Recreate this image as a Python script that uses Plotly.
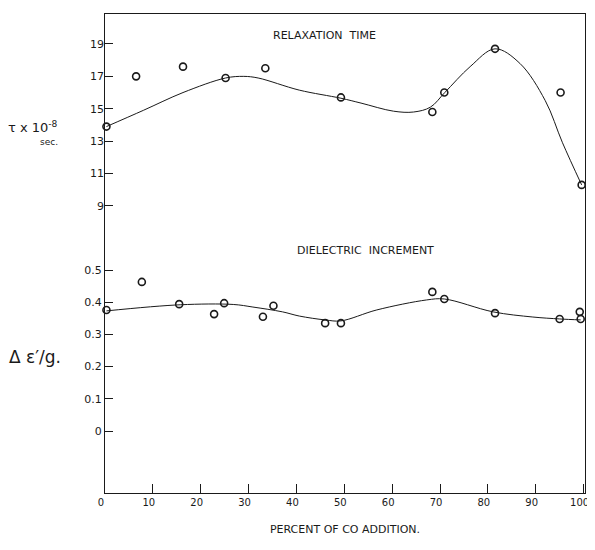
import plotly.graph_objects as go

# ---- data ----
# Relaxation time (tau x 1e-8 sec), measured points
tau_x = [0.3, 6.5, 16.3, 25.2, 33.5, 49.3, 68.4, 70.9, 81.5, 95.2, 99.6]
tau_y = [13.9, 17.0, 17.6, 16.9, 17.5, 15.7, 14.8, 16.0, 18.7, 16.0, 10.3]
# Relaxation time, hand-drawn smooth curve (knots)
tau_curve_x = [0.3, 8, 16.3, 25.2, 29, 32, 40.6, 49.3, 53.5, 60.3, 64.5, 68, 71, 76.3, 81.5, 86.7, 92, 95.6, 99.6]
tau_curve_y = [13.9, 14.9, 16.0, 16.9, 17.0, 16.9, 16.15, 15.65, 15.35, 14.85, 14.8, 15.1, 16.0, 17.6, 18.7, 17.8, 15.5, 12.9, 10.3]

# Dielectric increment (delta eps'/g), measured points
de_x = [0.3, 7.7, 15.5, 22.8, 24.9, 33.0, 35.2, 46.0, 49.3, 68.4, 70.9, 81.5, 95.0, 99.2, 99.4]
de_y = [0.376, 0.463, 0.394, 0.363, 0.397, 0.355, 0.389, 0.335, 0.335, 0.432, 0.410, 0.366, 0.348, 0.370, 0.348]
# Dielectric increment, smooth curve knots
de_curve_x = [0.3, 15.7, 26.8, 30.9, 37.1, 40.6, 46.0, 49.3, 56.8, 67.2, 70.9, 81.1, 89.4, 95.0, 99.4]
de_curve_y = [0.373, 0.392, 0.393, 0.385, 0.370, 0.357, 0.345, 0.342, 0.376, 0.407, 0.410, 0.370, 0.354, 0.348, 0.345]

x_ticks = [0, 10, 20, 30, 40, 50, 60, 70, 80, 90, 100]
tau_ticks = [9, 11, 13, 15, 17, 19]
de_ticks = [0, 0.1, 0.2, 0.3, 0.4, 0.5]
de_ticktext = ["0", "0.1", "0.2", "0.3", "0.4", "0.5"]

INK = "#1a1a1a"
FONT = "DejaVu Sans"

fig = go.Figure()

fig.add_trace(go.Scatter(x=tau_curve_x, y=tau_curve_y, mode="lines", yaxis="y2",
                         line=dict(color=INK, width=1.0, shape="spline", smoothing=1.0),
                         hoverinfo="skip", cliponaxis=False))
fig.add_trace(go.Scatter(x=tau_x, y=tau_y, mode="markers", yaxis="y2",
                         marker=dict(symbol="circle-open", size=7, color=INK, line=dict(width=1.6)),
                         cliponaxis=False))
fig.add_trace(go.Scatter(x=de_curve_x, y=de_curve_y, mode="lines", yaxis="y",
                         line=dict(color=INK, width=1.0, shape="spline", smoothing=1.0),
                         hoverinfo="skip", cliponaxis=False))
fig.add_trace(go.Scatter(x=de_x, y=de_y, mode="markers", yaxis="y",
                         marker=dict(symbol="circle-open", size=7, color=INK, line=dict(width=1.6)),
                         cliponaxis=False))

tickfont = dict(family=FONT, size=11, color=INK)

# page body has an 8px margin, so the figure is sized to sit inside the 595x550 window
fig.update_layout(
    width=587, height=534,
    margin=dict(l=97, r=10, t=6, b=49),
    paper_bgcolor="white", plot_bgcolor="white",
    showlegend=False,
    xaxis=dict(range=[0, 100.3], tickvals=x_ticks, ticks="inside", ticklen=9, tickwidth=1.2,
               tickcolor=INK, showline=True, mirror=True, linecolor=INK, linewidth=1.2,
               showgrid=False, zeroline=False, tickfont=dict(family=FONT, size=10, color=INK),
               ticklabeloverflow="allow", ticklabelshift=-4,
               title=dict(text="PERCENT OF CO ADDITION.", font=dict(family=FONT, size=11, color=INK),
                          standoff=18)),
    yaxis=dict(range=[-0.1925, 1.295], tickvals=de_ticks, ticktext=de_ticktext, ticks="inside",
               ticklen=8, tickwidth=1.2, tickcolor=INK, showline=True, mirror=True, linecolor=INK,
               linewidth=1.2, showgrid=False, zeroline=False, tickfont=tickfont),
    yaxis2=dict(range=[-8.72, 20.85], tickvals=tau_ticks, overlaying="y", side="left", anchor="x",
                ticks="inside", ticklen=8, tickwidth=1.2, tickcolor=INK, showline=False,
                showgrid=False, zeroline=False, tickfont=tickfont),
)

def note(text, x, y, size):
    fig.add_annotation(text=text, x=x, y=y, xref="paper", yref="paper", xanchor="center",
                       yanchor="middle", showarrow=False, font=dict(family=FONT, size=size, color=INK))

note("RELAXATION  TIME", 0.457, 0.956, 11)
note("DIELECTRIC  INCREMENT", 0.543, 0.507, 11)
note("τ x 10<sup>-8</sup>", -0.150, 0.765, 13)
note("sec.", -0.116, 0.733, 9)
note("Δ ε′/g.", -0.146, 0.284, 17)

fig.write_html("out.html")
